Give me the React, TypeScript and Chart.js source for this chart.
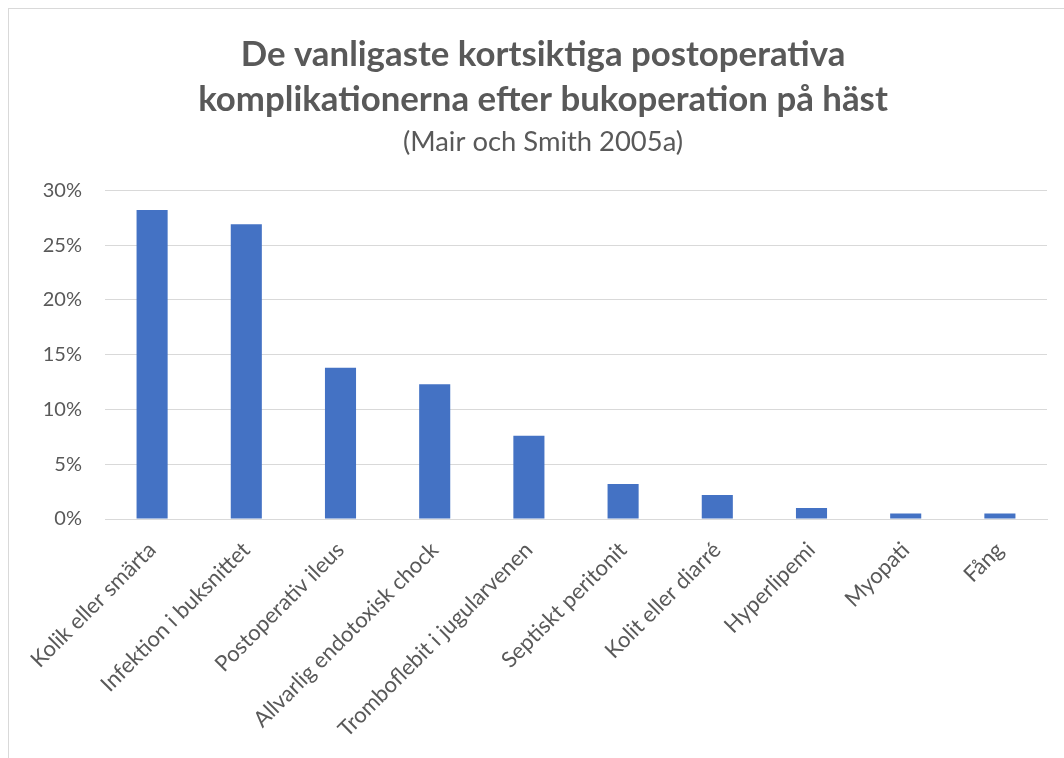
import React, { useEffect, useRef } from "react";
import { Chart, registerables } from "chart.js";

Chart.register(...registerables);

const categories = [
  "Kolik eller smärta",
  "Infektion i buksnittet",
  "Postoperativ ileus",
  "Allvarlig endotoxisk chock",
  "Tromboflebit i jugularvenen",
  "Septiskt peritonit",
  "Kolit eller diarré",
  "Hyperlipemi",
  "Myopati",
  "Fång",
];
const values = [28.2, 26.9, 13.8, 12.3, 7.6, 3.2, 2.2, 1.0, 0.5, 0.5];
const titleLines = [
  "De vanligaste kortsiktiga postoperativa",
  "komplikationerna efter bukoperation på häst",
];
const subtitleText = "(Mair och Smith 2005a)";
const yMax = 30;
const yStep = 5;

const FONT = "Lato";
const TEXT = "#595959";

export default function App() {
  const ref = useRef<HTMLCanvasElement | null>(null);
  useEffect(() => {
    document.body.style.overflow = "hidden";
    const ctx = ref.current!;
    const chart = new Chart(ctx, {
      type: "bar",
      data: {
        labels: categories,
        datasets: [
          {
            data: values,
            backgroundColor: "#4472C4",
            barPercentage: 0.33,
            categoryPercentage: 1,
          },
        ],
      },
      options: {
        animation: false,
        responsive: false,
        layout: { padding: 0 },
        plugins: {
          legend: { display: false },
          tooltip: { enabled: false },
          title: {
            display: true,
            text: titleLines,
            color: TEXT,
            font: { family: FONT, size: 34.8, weight: "bold", lineHeight: 1.3 },
            padding: { top: 23, bottom: 0 },
          },
          subtitle: {
            display: true,
            text: subtitleText,
            color: TEXT,
            font: { family: FONT, size: 27.4, weight: "normal", lineHeight: 1.2 },
            padding: { top: 3, bottom: 32 },
          },
        },
        scales: {
          x: {
            grid: { display: false, drawTicks: false },
            border: { display: true, color: "#d9d9d9" },
            ticks: {
              autoSkip: false,
              maxRotation: 45,
              minRotation: 45,
              padding: 18,
              color: TEXT,
              font: { family: FONT, size: 22 },
            },
            afterFit: (s: any) => {
              s.height = 239;
            },
          },
          y: {
            min: 0,
            max: yMax,
            grid: { color: "#d9d9d9", drawTicks: false },
            border: { display: false },
            ticks: {
              stepSize: yStep,
              padding: 23,
              color: TEXT,
              font: { family: FONT, size: 20 },
              callback: (v: any) => v + "%",
            },
            afterFit: (s: any) => {
              s.width = 96;
            },
          },
          spacer: {
            type: "linear",
            position: "right",
            grid: { display: false, drawTicks: false },
            border: { display: false },
            ticks: { display: false },
            afterFit: (s: any) => {
              s.width = 30;
            },
          },
        },
      },
    });
    return () => chart.destroy();
  }, []);
  return (
    <div
      style={{
        position: "absolute",
        left: 8,
        top: 8,
        width: 1055,
        height: 749,
        overflow: "hidden",
        borderLeft: "1px solid #d9d9d9",
        borderTop: "1px solid #d9d9d9",
        boxSizing: "content-box",
        background: "#fff",
      }}
    >
      <canvas ref={ref} width={1068} height={749} style={{ display: "block" }} />
    </div>
  );
}
